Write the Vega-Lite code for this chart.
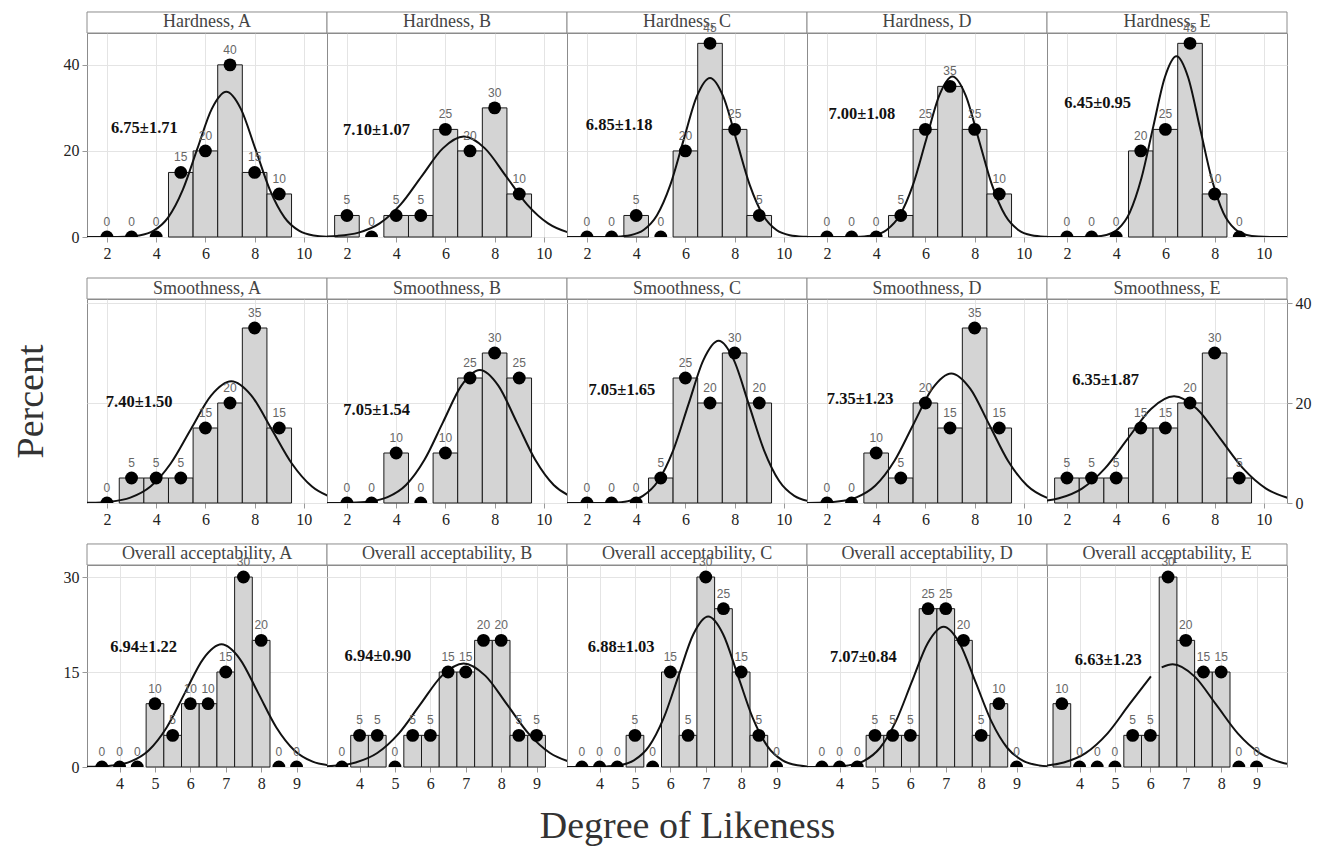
{
"$schema": "https://vega.github.io/schema/vega-lite/v6.json",
"padding": {"left": 11, "top": 10, "right": 0, "bottom": 0},
"background": "white",
"config": {
  "view": {"stroke": "#8c8c8c", "strokeWidth": 1},
  "scale": {"continuousPadding": 0},
  "axis": {"grid": true, "gridColor": "#e4e4e4", "domain": false, "tickColor": "#999", "tickSize": 5, "labelFont": "Liberation Serif", "labelFontSize": 16, "labelColor": "#222", "labelPadding": 3, "titleFont": "Liberation Serif", "titleFontSize": 38, "titleFontWeight": "normal", "titleColor": "#333", "labelFlush": false, "labelOverlap": false}
},
"datasets": {
"pts": [
{"p":"HA","x":2,"pct":0},{"p":"HA","x":3,"pct":0},{"p":"HA","x":4,"pct":0},{"p":"HA","x":5,"pct":15},{"p":"HA","x":6,"pct":20},{"p":"HA","x":7,"pct":40},{"p":"HA","x":8,"pct":15},{"p":"HA","x":9,"pct":10},
{"p":"HB","x":2,"pct":5},{"p":"HB","x":3,"pct":0},{"p":"HB","x":4,"pct":5},{"p":"HB","x":5,"pct":5},{"p":"HB","x":6,"pct":25},{"p":"HB","x":7,"pct":20},{"p":"HB","x":8,"pct":30},{"p":"HB","x":9,"pct":10},
{"p":"HC","x":2,"pct":0},{"p":"HC","x":3,"pct":0},{"p":"HC","x":4,"pct":5},{"p":"HC","x":5,"pct":0},{"p":"HC","x":6,"pct":20},{"p":"HC","x":7,"pct":45},{"p":"HC","x":8,"pct":25},{"p":"HC","x":9,"pct":5},
{"p":"HD","x":2,"pct":0},{"p":"HD","x":3,"pct":0},{"p":"HD","x":4,"pct":0},{"p":"HD","x":5,"pct":5},{"p":"HD","x":6,"pct":25},{"p":"HD","x":7,"pct":35},{"p":"HD","x":8,"pct":25},{"p":"HD","x":9,"pct":10},
{"p":"HE","x":2,"pct":0},{"p":"HE","x":3,"pct":0},{"p":"HE","x":4,"pct":0},{"p":"HE","x":5,"pct":20},{"p":"HE","x":6,"pct":25},{"p":"HE","x":7,"pct":45},{"p":"HE","x":8,"pct":10},{"p":"HE","x":9,"pct":0},
{"p":"SA","x":2,"pct":0},{"p":"SA","x":3,"pct":5},{"p":"SA","x":4,"pct":5},{"p":"SA","x":5,"pct":5},{"p":"SA","x":6,"pct":15},{"p":"SA","x":7,"pct":20},{"p":"SA","x":8,"pct":35},{"p":"SA","x":9,"pct":15},
{"p":"SB","x":2,"pct":0},{"p":"SB","x":3,"pct":0},{"p":"SB","x":4,"pct":10},{"p":"SB","x":5,"pct":0},{"p":"SB","x":6,"pct":10},{"p":"SB","x":7,"pct":25},{"p":"SB","x":8,"pct":30},{"p":"SB","x":9,"pct":25},
{"p":"SC","x":2,"pct":0},{"p":"SC","x":3,"pct":0},{"p":"SC","x":4,"pct":0},{"p":"SC","x":5,"pct":5},{"p":"SC","x":6,"pct":25},{"p":"SC","x":7,"pct":20},{"p":"SC","x":8,"pct":30},{"p":"SC","x":9,"pct":20},
{"p":"SD","x":2,"pct":0},{"p":"SD","x":3,"pct":0},{"p":"SD","x":4,"pct":10},{"p":"SD","x":5,"pct":5},{"p":"SD","x":6,"pct":20},{"p":"SD","x":7,"pct":15},{"p":"SD","x":8,"pct":35},{"p":"SD","x":9,"pct":15},
{"p":"SE","x":2,"pct":5},{"p":"SE","x":3,"pct":5},{"p":"SE","x":4,"pct":5},{"p":"SE","x":5,"pct":15},{"p":"SE","x":6,"pct":15},{"p":"SE","x":7,"pct":20},{"p":"SE","x":8,"pct":30},{"p":"SE","x":9,"pct":5},
{"p":"OA","x":3.5,"pct":0},{"p":"OA","x":4,"pct":0},{"p":"OA","x":4.5,"pct":0},{"p":"OA","x":5,"pct":10},{"p":"OA","x":5.5,"pct":5},{"p":"OA","x":6,"pct":10},{"p":"OA","x":6.5,"pct":10},{"p":"OA","x":7,"pct":15},{"p":"OA","x":7.5,"pct":30},{"p":"OA","x":8,"pct":20},{"p":"OA","x":8.5,"pct":0},{"p":"OA","x":9,"pct":0},
{"p":"OB","x":3.5,"pct":0},{"p":"OB","x":4,"pct":5},{"p":"OB","x":4.5,"pct":5},{"p":"OB","x":5,"pct":0},{"p":"OB","x":5.5,"pct":5},{"p":"OB","x":6,"pct":5},{"p":"OB","x":6.5,"pct":15},{"p":"OB","x":7,"pct":15},{"p":"OB","x":7.5,"pct":20},{"p":"OB","x":8,"pct":20},{"p":"OB","x":8.5,"pct":5},{"p":"OB","x":9,"pct":5},
{"p":"OC","x":3.5,"pct":0},{"p":"OC","x":4,"pct":0},{"p":"OC","x":4.5,"pct":0},{"p":"OC","x":5,"pct":5},{"p":"OC","x":5.5,"pct":0},{"p":"OC","x":6,"pct":15},{"p":"OC","x":6.5,"pct":5},{"p":"OC","x":7,"pct":30},{"p":"OC","x":7.5,"pct":25},{"p":"OC","x":8,"pct":15},{"p":"OC","x":8.5,"pct":5},{"p":"OC","x":9,"pct":0},
{"p":"OD","x":3.5,"pct":0},{"p":"OD","x":4,"pct":0},{"p":"OD","x":4.5,"pct":0},{"p":"OD","x":5,"pct":5},{"p":"OD","x":5.5,"pct":5},{"p":"OD","x":6,"pct":5},{"p":"OD","x":6.5,"pct":25},{"p":"OD","x":7,"pct":25},{"p":"OD","x":7.5,"pct":20},{"p":"OD","x":8,"pct":5},{"p":"OD","x":8.5,"pct":10},{"p":"OD","x":9,"pct":0},
{"p":"OE","x":3.5,"pct":10},{"p":"OE","x":4,"pct":0},{"p":"OE","x":4.5,"pct":0},{"p":"OE","x":5,"pct":0},{"p":"OE","x":5.5,"pct":5},{"p":"OE","x":6,"pct":5},{"p":"OE","x":6.5,"pct":30},{"p":"OE","x":7,"pct":20},{"p":"OE","x":7.5,"pct":15},{"p":"OE","x":8,"pct":15},{"p":"OE","x":8.5,"pct":0},{"p":"OE","x":9,"pct":0}
],
"crv": [
{"p":"HA","x":1.0,"y":0},{"p":"HA","x":2.13,"y":0.01},{"p":"HA","x":2.72,"y":0.07},{"p":"HA","x":3.31,"y":0.37},{"p":"HA","x":3.9,"y":1.48},{"p":"HA","x":4.49,"y":4.57},{"p":"HA","x":5.08,"y":10.96},{"p":"HA","x":5.67,"y":20.47},{"p":"HA","x":6.26,"y":29.78},{"p":"HA","x":6.85,"y":33.75},{"p":"HA","x":7.44,"y":29.78},{"p":"HA","x":8.03,"y":20.47},{"p":"HA","x":8.62,"y":10.96},{"p":"HA","x":9.21,"y":4.57},{"p":"HA","x":9.8,"y":1.48},{"p":"HA","x":10.39,"y":0.37},{"p":"HA","x":10.98,"y":0.07},{"p":"HA","x":11.57,"y":0.01},
{"p":"HB","x":0.765,"y":0.05},{"p":"HB","x":1.62,"y":0.26},{"p":"HB","x":2.475,"y":1.02},{"p":"HB","x":3.33,"y":3.16},{"p":"HB","x":4.185,"y":7.58},{"p":"HB","x":5.04,"y":14.15},{"p":"HB","x":5.895,"y":20.59},{"p":"HB","x":6.75,"y":23.33},{"p":"HB","x":7.605,"y":20.59},{"p":"HB","x":8.46,"y":14.15},{"p":"HB","x":9.315,"y":7.58},{"p":"HB","x":10.17,"y":3.16},{"p":"HB","x":11.025,"y":1.02},{"p":"HB","x":11.88,"y":0.26},
{"p":"HC","x":1.0,"y":0},{"p":"HC","x":2.68,"y":0.01},{"p":"HC","x":3.22,"y":0.08},{"p":"HC","x":3.76,"y":0.41},{"p":"HC","x":4.3,"y":1.62},{"p":"HC","x":4.84,"y":5.0},{"p":"HC","x":5.38,"y":11.99},{"p":"HC","x":5.92,"y":22.4},{"p":"HC","x":6.46,"y":32.6},{"p":"HC","x":7.0,"y":36.94},{"p":"HC","x":7.54,"y":32.6},{"p":"HC","x":8.08,"y":22.4},{"p":"HC","x":8.62,"y":11.99},{"p":"HC","x":9.16,"y":5.0},{"p":"HC","x":9.7,"y":1.62},{"p":"HC","x":10.24,"y":0.41},{"p":"HC","x":10.78,"y":0.08},{"p":"HC","x":11.32,"y":0.01},
{"p":"HD","x":1.0,"y":0},{"p":"HD","x":2.82,"y":0.01},{"p":"HD","x":3.355,"y":0.08},{"p":"HD","x":3.89,"y":0.41},{"p":"HD","x":4.425,"y":1.64},{"p":"HD","x":4.96,"y":5.04},{"p":"HD","x":5.495,"y":12.1},{"p":"HD","x":6.03,"y":22.61},{"p":"HD","x":6.565,"y":32.9},{"p":"HD","x":7.1,"y":37.28},{"p":"HD","x":7.635,"y":32.9},{"p":"HD","x":8.17,"y":22.61},{"p":"HD","x":8.705,"y":12.1},{"p":"HD","x":9.24,"y":5.04},{"p":"HD","x":9.775,"y":1.64},{"p":"HD","x":10.31,"y":0.41},{"p":"HD","x":10.845,"y":0.08},{"p":"HD","x":11.38,"y":0.01},
{"p":"HE","x":1.0,"y":0},{"p":"HE","x":2.65,"y":0.01},{"p":"HE","x":3.125,"y":0.09},{"p":"HE","x":3.6,"y":0.47},{"p":"HE","x":4.075,"y":1.84},{"p":"HE","x":4.55,"y":5.68},{"p":"HE","x":5.025,"y":13.64},{"p":"HE","x":5.5,"y":25.47},{"p":"HE","x":5.975,"y":37.07},{"p":"HE","x":6.45,"y":42.0},{"p":"HE","x":6.925,"y":37.07},{"p":"HE","x":7.4,"y":25.47},{"p":"HE","x":7.875,"y":13.64},{"p":"HE","x":8.35,"y":5.68},{"p":"HE","x":8.825,"y":1.84},{"p":"HE","x":9.3,"y":0.47},{"p":"HE","x":9.775,"y":0.09},{"p":"HE","x":10.25,"y":0.01},{"p":"HE","x":11.0,"y":0},
{"p":"SA","x":0.49,"y":0.01},{"p":"SA","x":1.31,"y":0.05},{"p":"SA","x":2.13,"y":0.27},{"p":"SA","x":2.95,"y":1.07},{"p":"SA","x":3.77,"y":3.29},{"p":"SA","x":4.59,"y":7.9},{"p":"SA","x":5.41,"y":14.76},{"p":"SA","x":6.23,"y":21.47},{"p":"SA","x":7.05,"y":24.33},{"p":"SA","x":7.87,"y":21.47},{"p":"SA","x":8.69,"y":14.76},{"p":"SA","x":9.51,"y":7.9},{"p":"SA","x":10.33,"y":3.29},{"p":"SA","x":11.15,"y":1.07},
{"p":"SB","x":1.0,"y":0},{"p":"SB","x":1.4,"y":0.01},{"p":"SB","x":2.15,"y":0.06},{"p":"SB","x":2.9,"y":0.3},{"p":"SB","x":3.65,"y":1.17},{"p":"SB","x":4.4,"y":3.6},{"p":"SB","x":5.15,"y":8.64},{"p":"SB","x":5.9,"y":16.13},{"p":"SB","x":6.65,"y":23.47},{"p":"SB","x":7.4,"y":26.6},{"p":"SB","x":8.15,"y":23.47},{"p":"SB","x":8.9,"y":16.13},{"p":"SB","x":9.65,"y":8.64},{"p":"SB","x":10.4,"y":3.6},{"p":"SB","x":11.15,"y":1.17},
{"p":"SC","x":1.0,"y":0},{"p":"SC","x":2.43,"y":0.01},{"p":"SC","x":3.045,"y":0.07},{"p":"SC","x":3.66,"y":0.36},{"p":"SC","x":4.275,"y":1.42},{"p":"SC","x":4.89,"y":4.39},{"p":"SC","x":5.505,"y":10.53},{"p":"SC","x":6.12,"y":19.67},{"p":"SC","x":6.735,"y":28.62},{"p":"SC","x":7.35,"y":32.43},{"p":"SC","x":7.965,"y":28.62},{"p":"SC","x":8.58,"y":19.67},{"p":"SC","x":9.195,"y":10.53},{"p":"SC","x":9.81,"y":4.39},{"p":"SC","x":10.425,"y":1.42},{"p":"SC","x":11.04,"y":0.36},
{"p":"SD","x":0.89,"y":0.01},{"p":"SD","x":1.66,"y":0.06},{"p":"SD","x":2.43,"y":0.29},{"p":"SD","x":3.2,"y":1.14},{"p":"SD","x":3.97,"y":3.51},{"p":"SD","x":4.74,"y":8.41},{"p":"SD","x":5.51,"y":15.71},{"p":"SD","x":6.28,"y":22.87},{"p":"SD","x":7.05,"y":25.91},{"p":"SD","x":7.82,"y":22.87},{"p":"SD","x":8.59,"y":15.71},{"p":"SD","x":9.36,"y":8.41},{"p":"SD","x":10.13,"y":3.51},{"p":"SD","x":10.9,"y":1.14},{"p":"SD","x":11.67,"y":0.29},
{"p":"SE","x":0.74,"y":0.24},{"p":"SE","x":1.675,"y":0.94},{"p":"SE","x":2.61,"y":2.89},{"p":"SE","x":3.545,"y":6.93},{"p":"SE","x":4.48,"y":12.94},{"p":"SE","x":5.415,"y":18.82},{"p":"SE","x":6.35,"y":21.33},{"p":"SE","x":7.285,"y":18.82},{"p":"SE","x":8.22,"y":12.94},{"p":"SE","x":9.155,"y":6.93},{"p":"SE","x":10.09,"y":2.89},{"p":"SE","x":11.025,"y":0.94},
{"p":"OA","x":2.76,"y":0.01},{"p":"OA","x":3.275,"y":0.04},{"p":"OA","x":3.79,"y":0.22},{"p":"OA","x":4.305,"y":0.85},{"p":"OA","x":4.82,"y":2.62},{"p":"OA","x":5.335,"y":6.29},{"p":"OA","x":5.85,"y":11.75},{"p":"OA","x":6.365,"y":17.09},{"p":"OA","x":6.88,"y":19.37},{"p":"OA","x":7.395,"y":17.09},{"p":"OA","x":7.91,"y":11.75},{"p":"OA","x":8.425,"y":6.29},{"p":"OA","x":8.94,"y":2.62},{"p":"OA","x":9.455,"y":0.85},{"p":"OA","x":9.97,"y":0.22},
{"p":"OB","x":2.67,"y":0.04},{"p":"OB","x":3.28,"y":0.18},{"p":"OB","x":3.89,"y":0.72},{"p":"OB","x":4.5,"y":2.21},{"p":"OB","x":5.11,"y":5.31},{"p":"OB","x":5.72,"y":9.92},{"p":"OB","x":6.33,"y":14.43},{"p":"OB","x":6.94,"y":16.35},{"p":"OB","x":7.55,"y":14.43},{"p":"OB","x":8.16,"y":9.92},{"p":"OB","x":8.77,"y":5.31},{"p":"OB","x":9.38,"y":2.21},{"p":"OB","x":9.99,"y":0.72},
{"p":"OC","x":3.0,"y":0},{"p":"OC","x":3.71,"y":0.01},{"p":"OC","x":4.13,"y":0.05},{"p":"OC","x":4.55,"y":0.26},{"p":"OC","x":4.97,"y":1.04},{"p":"OC","x":5.39,"y":3.21},{"p":"OC","x":5.81,"y":7.71},{"p":"OC","x":6.23,"y":14.4},{"p":"OC","x":6.65,"y":20.96},{"p":"OC","x":7.07,"y":23.75},{"p":"OC","x":7.49,"y":20.96},{"p":"OC","x":7.91,"y":14.4},{"p":"OC","x":8.33,"y":7.71},{"p":"OC","x":8.75,"y":3.21},{"p":"OC","x":9.17,"y":1.04},{"p":"OC","x":9.59,"y":0.26},{"p":"OC","x":10.01,"y":0.05},
{"p":"OD","x":3.0,"y":0},{"p":"OD","x":3.34,"y":0.01},{"p":"OD","x":3.79,"y":0.05},{"p":"OD","x":4.24,"y":0.25},{"p":"OD","x":4.69,"y":0.97},{"p":"OD","x":5.14,"y":3.0},{"p":"OD","x":5.59,"y":7.2},{"p":"OD","x":6.04,"y":13.44},{"p":"OD","x":6.49,"y":19.56},{"p":"OD","x":6.94,"y":22.16},{"p":"OD","x":7.39,"y":19.56},{"p":"OD","x":7.84,"y":13.44},{"p":"OD","x":8.29,"y":7.2},{"p":"OD","x":8.74,"y":3.0},{"p":"OD","x":9.19,"y":0.97},{"p":"OD","x":9.64,"y":0.25},{"p":"OD","x":10.09,"y":0.05},
{"p":"OE","s":1,"x":2.325,"y":0.04},{"p":"OE","s":1,"x":2.94,"y":0.18},{"p":"OE","s":1,"x":3.555,"y":0.71},{"p":"OE","s":1,"x":4.17,"y":2.19},{"p":"OE","s":1,"x":4.785,"y":5.27},{"p":"OE","s":1,"x":5.4,"y":9.84},{"p":"OE","s":1,"x":6.015,"y":14.31},
{"p":"OE","s":2,"x":6.32,"y":15.72},{"p":"OE","s":2,"x":6.63,"y":16.22},{"p":"OE","s":2,"x":7.245,"y":14.31},{"p":"OE","s":2,"x":7.86,"y":9.84},{"p":"OE","s":2,"x":8.475,"y":5.27},{"p":"OE","s":2,"x":9.09,"y":2.19},{"p":"OE","s":2,"x":9.705,"y":0.71},{"p":"OE","s":2,"x":10.32,"y":0.18}
],
"ann": [
{"p":"HA","title":"Hardness, A","stat":"6.75±1.71"},
{"p":"HB","title":"Hardness, B","stat":"7.10±1.07"},
{"p":"HC","title":"Hardness, C","stat":"6.85±1.18"},
{"p":"HD","title":"Hardness, D","stat":"7.00±1.08"},
{"p":"HE","title":"Hardness, E","stat":"6.45±0.95"},
{"p":"SA","title":"Smoothness, A","stat":"7.40±1.50"},
{"p":"SB","title":"Smoothness, B","stat":"7.05±1.54"},
{"p":"SC","title":"Smoothness, C","stat":"7.05±1.65"},
{"p":"SD","title":"Smoothness, D","stat":"7.35±1.23"},
{"p":"SE","title":"Smoothness, E","stat":"6.35±1.87"},
{"p":"OA","title":"Overall acceptability, A","stat":"6.94±1.22"},
{"p":"OB","title":"Overall acceptability, B","stat":"6.94±0.90"},
{"p":"OC","title":"Overall acceptability, C","stat":"6.88±1.03"},
{"p":"OD","title":"Overall acceptability, D","stat":"7.07±0.84"},
{"p":"OE","title":"Overall acceptability, E","stat":"6.63±1.23"}
]
},
"columns": 5,
"spacing": {"row": 62, "column": 0},
"bounds": "flush",
"concat": [
{"width":240,"height":204,"layer":[
 {"data":{"name":"pts"},"transform":[{"filter":"datum.p=='HA' && datum.pct>0"}],"mark":{"type":"bar","width":24.6,"fill":"#d4d4d4","stroke":"#1a1a1a","strokeWidth":1},
  "encoding":{"x":{"field":"x","type":"quantitative","scale":{"domain":[1.19,10.94],"nice":false,"zero":false,"padding":0},"axis":{"values":[2,4,6,8,10],"title":null}},
   "y":{"field":"pct","type":"quantitative","scale":{"domain":[0,47.4],"nice":false},"axis":{"values":[0,20,40],"title":null}}}},
 {"data":{"name":"crv"},"transform":[{"filter":"datum.p=='HA'"}],"mark":{"type":"line","color":"#111","strokeWidth":2,"interpolate":"monotone","clip":true},"encoding":{"x":{"field":"x","type":"quantitative"},"y":{"field":"y","type":"quantitative"}}},
 {"data":{"name":"pts"},"transform":[{"filter":"datum.p=='HA'"}],"mark":{"type":"circle","size":165,"color":"#000","opacity":1,"clip":true},"encoding":{"x":{"field":"x","type":"quantitative"},"y":{"field":"pct","type":"quantitative"}}},
 {"data":{"name":"ann"},"transform":[{"filter":"datum.p=='HA'"}],"mark":{"type":"rect","fill":"#fff","stroke":"#8c8c8c","strokeWidth":1},"encoding":{"x":{"datum":1.19},"x2":{"datum":10.94},"y":{"datum":47.4},"y2":{"datum":52.28}}},
 {"data":{"name":"ann"},"transform":[{"filter":"datum.p=='HA'"}],"mark":{"type":"text","font":"Liberation Serif","fontSize":18,"color":"#444","baseline":"middle"},"encoding":{"x":{"datum":6.065},"y":{"datum":49.84},"text":{"field":"title"}}},
 {"data":{"name":"ann"},"transform":[{"filter":"datum.p=='HA'"}],"mark":{"type":"text","font":"Liberation Serif","fontSize":16.5,"fontWeight":"bold","color":"#111","baseline":"middle"},"encoding":{"x":{"datum":3.52},"y":{"datum":25.4},"text":{"field":"stat"}}},
 {"data":{"name":"pts"},"transform":[{"filter":"datum.p=='HA'"}],"mark":{"type":"text","dy":-15,"font":"Liberation Sans","fontSize":12,"fill":"#666","baseline":"middle"},"encoding":{"x":{"field":"x","type":"quantitative"},"y":{"field":"pct","type":"quantitative"},"text":{"field":"pct","type":"quantitative"}}}
]},
{"width":240,"height":204,"layer":[
 {"data":{"name":"pts"},"transform":[{"filter":"datum.p=='HB' && datum.pct>0"}],"mark":{"type":"bar","width":24.6,"fill":"#d4d4d4","stroke":"#1a1a1a","strokeWidth":1},
  "encoding":{"x":{"field":"x","type":"quantitative","scale":{"domain":[1.19,10.94],"nice":false,"zero":false,"padding":0},"axis":{"values":[2,4,6,8,10],"title":null}},
   "y":{"field":"pct","type":"quantitative","scale":{"domain":[0,47.4],"nice":false},"axis":{"values":[0,20,40],"title":null,"labels":false,"ticks":false}}}},
 {"data":{"name":"crv"},"transform":[{"filter":"datum.p=='HB'"}],"mark":{"type":"line","color":"#111","strokeWidth":2,"interpolate":"monotone","clip":true},"encoding":{"x":{"field":"x","type":"quantitative"},"y":{"field":"y","type":"quantitative"}}},
 {"data":{"name":"pts"},"transform":[{"filter":"datum.p=='HB'"}],"mark":{"type":"circle","size":165,"color":"#000","opacity":1,"clip":true},"encoding":{"x":{"field":"x","type":"quantitative"},"y":{"field":"pct","type":"quantitative"}}},
 {"data":{"name":"ann"},"transform":[{"filter":"datum.p=='HB'"}],"mark":{"type":"rect","fill":"#fff","stroke":"#8c8c8c","strokeWidth":1},"encoding":{"x":{"datum":1.19},"x2":{"datum":10.94},"y":{"datum":47.4},"y2":{"datum":52.28}}},
 {"data":{"name":"ann"},"transform":[{"filter":"datum.p=='HB'"}],"mark":{"type":"text","font":"Liberation Serif","fontSize":18,"color":"#444","baseline":"middle"},"encoding":{"x":{"datum":6.065},"y":{"datum":49.84},"text":{"field":"title"}}},
 {"data":{"name":"ann"},"transform":[{"filter":"datum.p=='HB'"}],"mark":{"type":"text","font":"Liberation Serif","fontSize":16.5,"fontWeight":"bold","color":"#111","baseline":"middle"},"encoding":{"x":{"datum":3.2},"y":{"datum":24.9},"text":{"field":"stat"}}},
 {"data":{"name":"pts"},"transform":[{"filter":"datum.p=='HB'"}],"mark":{"type":"text","dy":-15,"font":"Liberation Sans","fontSize":12,"fill":"#666","baseline":"middle"},"encoding":{"x":{"field":"x","type":"quantitative"},"y":{"field":"pct","type":"quantitative"},"text":{"field":"pct","type":"quantitative"}}}
]},
{"width":240,"height":204,"layer":[
 {"data":{"name":"pts"},"transform":[{"filter":"datum.p=='HC' && datum.pct>0"}],"mark":{"type":"bar","width":24.6,"fill":"#d4d4d4","stroke":"#1a1a1a","strokeWidth":1},
  "encoding":{"x":{"field":"x","type":"quantitative","scale":{"domain":[1.19,10.94],"nice":false,"zero":false,"padding":0},"axis":{"values":[2,4,6,8,10],"title":null}},
   "y":{"field":"pct","type":"quantitative","scale":{"domain":[0,47.4],"nice":false},"axis":{"values":[0,20,40],"title":null,"labels":false,"ticks":false}}}},
 {"data":{"name":"crv"},"transform":[{"filter":"datum.p=='HC'"}],"mark":{"type":"line","color":"#111","strokeWidth":2,"interpolate":"monotone","clip":true},"encoding":{"x":{"field":"x","type":"quantitative"},"y":{"field":"y","type":"quantitative"}}},
 {"data":{"name":"pts"},"transform":[{"filter":"datum.p=='HC'"}],"mark":{"type":"circle","size":165,"color":"#000","opacity":1,"clip":true},"encoding":{"x":{"field":"x","type":"quantitative"},"y":{"field":"pct","type":"quantitative"}}},
 {"data":{"name":"ann"},"transform":[{"filter":"datum.p=='HC'"}],"mark":{"type":"rect","fill":"#fff","stroke":"#8c8c8c","strokeWidth":1},"encoding":{"x":{"datum":1.19},"x2":{"datum":10.94},"y":{"datum":47.4},"y2":{"datum":52.28}}},
 {"data":{"name":"ann"},"transform":[{"filter":"datum.p=='HC'"}],"mark":{"type":"text","font":"Liberation Serif","fontSize":18,"color":"#444","baseline":"middle"},"encoding":{"x":{"datum":6.065},"y":{"datum":49.84},"text":{"field":"title"}}},
 {"data":{"name":"ann"},"transform":[{"filter":"datum.p=='HC'"}],"mark":{"type":"text","font":"Liberation Serif","fontSize":16.5,"fontWeight":"bold","color":"#111","baseline":"middle"},"encoding":{"x":{"datum":3.31},"y":{"datum":26.0},"text":{"field":"stat"}}},
 {"data":{"name":"pts"},"transform":[{"filter":"datum.p=='HC'"}],"mark":{"type":"text","dy":-15,"font":"Liberation Sans","fontSize":12,"fill":"#666","baseline":"middle"},"encoding":{"x":{"field":"x","type":"quantitative"},"y":{"field":"pct","type":"quantitative"},"text":{"field":"pct","type":"quantitative"}}}
]},
{"width":240,"height":204,"layer":[
 {"data":{"name":"pts"},"transform":[{"filter":"datum.p=='HD' && datum.pct>0"}],"mark":{"type":"bar","width":24.6,"fill":"#d4d4d4","stroke":"#1a1a1a","strokeWidth":1},
  "encoding":{"x":{"field":"x","type":"quantitative","scale":{"domain":[1.19,10.94],"nice":false,"zero":false,"padding":0},"axis":{"values":[2,4,6,8,10],"title":null}},
   "y":{"field":"pct","type":"quantitative","scale":{"domain":[0,47.4],"nice":false},"axis":{"values":[0,20,40],"title":null,"labels":false,"ticks":false}}}},
 {"data":{"name":"crv"},"transform":[{"filter":"datum.p=='HD'"}],"mark":{"type":"line","color":"#111","strokeWidth":2,"interpolate":"monotone","clip":true},"encoding":{"x":{"field":"x","type":"quantitative"},"y":{"field":"y","type":"quantitative"}}},
 {"data":{"name":"pts"},"transform":[{"filter":"datum.p=='HD'"}],"mark":{"type":"circle","size":165,"color":"#000","opacity":1,"clip":true},"encoding":{"x":{"field":"x","type":"quantitative"},"y":{"field":"pct","type":"quantitative"}}},
 {"data":{"name":"ann"},"transform":[{"filter":"datum.p=='HD'"}],"mark":{"type":"rect","fill":"#fff","stroke":"#8c8c8c","strokeWidth":1},"encoding":{"x":{"datum":1.19},"x2":{"datum":10.94},"y":{"datum":47.4},"y2":{"datum":52.28}}},
 {"data":{"name":"ann"},"transform":[{"filter":"datum.p=='HD'"}],"mark":{"type":"text","font":"Liberation Serif","fontSize":18,"color":"#444","baseline":"middle"},"encoding":{"x":{"datum":6.065},"y":{"datum":49.84},"text":{"field":"title"}}},
 {"data":{"name":"ann"},"transform":[{"filter":"datum.p=='HD'"}],"mark":{"type":"text","font":"Liberation Serif","fontSize":16.5,"fontWeight":"bold","color":"#111","baseline":"middle"},"encoding":{"x":{"datum":3.42},"y":{"datum":28.6},"text":{"field":"stat"}}},
 {"data":{"name":"pts"},"transform":[{"filter":"datum.p=='HD'"}],"mark":{"type":"text","dy":-15,"font":"Liberation Sans","fontSize":12,"fill":"#666","baseline":"middle"},"encoding":{"x":{"field":"x","type":"quantitative"},"y":{"field":"pct","type":"quantitative"},"text":{"field":"pct","type":"quantitative"}}}
]},
{"width":240,"height":204,"layer":[
 {"data":{"name":"pts"},"transform":[{"filter":"datum.p=='HE' && datum.pct>0"}],"mark":{"type":"bar","width":24.6,"fill":"#d4d4d4","stroke":"#1a1a1a","strokeWidth":1},
  "encoding":{"x":{"field":"x","type":"quantitative","scale":{"domain":[1.19,10.94],"nice":false,"zero":false,"padding":0},"axis":{"values":[2,4,6,8,10],"title":null}},
   "y":{"field":"pct","type":"quantitative","scale":{"domain":[0,47.4],"nice":false},"axis":{"values":[0,20,40],"title":null,"labels":false,"ticks":false}}}},
 {"data":{"name":"crv"},"transform":[{"filter":"datum.p=='HE'"}],"mark":{"type":"line","color":"#111","strokeWidth":2,"interpolate":"monotone","clip":true},"encoding":{"x":{"field":"x","type":"quantitative"},"y":{"field":"y","type":"quantitative"}}},
 {"data":{"name":"pts"},"transform":[{"filter":"datum.p=='HE'"}],"mark":{"type":"circle","size":165,"color":"#000","opacity":1,"clip":true},"encoding":{"x":{"field":"x","type":"quantitative"},"y":{"field":"pct","type":"quantitative"}}},
 {"data":{"name":"ann"},"transform":[{"filter":"datum.p=='HE'"}],"mark":{"type":"rect","fill":"#fff","stroke":"#8c8c8c","strokeWidth":1},"encoding":{"x":{"datum":1.19},"x2":{"datum":10.94},"y":{"datum":47.4},"y2":{"datum":52.28}}},
 {"data":{"name":"ann"},"transform":[{"filter":"datum.p=='HE'"}],"mark":{"type":"text","font":"Liberation Serif","fontSize":18,"color":"#444","baseline":"middle"},"encoding":{"x":{"datum":6.065},"y":{"datum":49.84},"text":{"field":"title"}}},
 {"data":{"name":"ann"},"transform":[{"filter":"datum.p=='HE'"}],"mark":{"type":"text","font":"Liberation Serif","fontSize":16.5,"fontWeight":"bold","color":"#111","baseline":"middle"},"encoding":{"x":{"datum":3.25},"y":{"datum":31.1},"text":{"field":"stat"}}},
 {"data":{"name":"pts"},"transform":[{"filter":"datum.p=='HE'"}],"mark":{"type":"text","dy":-15,"font":"Liberation Sans","fontSize":12,"fill":"#666","baseline":"middle"},"encoding":{"x":{"field":"x","type":"quantitative"},"y":{"field":"pct","type":"quantitative"},"text":{"field":"pct","type":"quantitative"}}}
]},
{"width":240,"height":204,"layer":[
 {"data":{"name":"pts"},"transform":[{"filter":"datum.p=='SA' && datum.pct>0"}],"mark":{"type":"bar","width":24.6,"fill":"#d4d4d4","stroke":"#1a1a1a","strokeWidth":1},
  "encoding":{"x":{"field":"x","type":"quantitative","scale":{"domain":[1.19,10.94],"nice":false,"zero":false,"padding":0},"axis":{"values":[2,4,6,8,10],"title":null}},
   "y":{"field":"pct","type":"quantitative","scale":{"domain":[0,40.8],"nice":false},"axis":{"values":[0,20,40],"title":"Percent","labels":false,"ticks":false,"titlePadding":37}}}},
 {"data":{"name":"crv"},"transform":[{"filter":"datum.p=='SA'"}],"mark":{"type":"line","color":"#111","strokeWidth":2,"interpolate":"monotone","clip":true},"encoding":{"x":{"field":"x","type":"quantitative"},"y":{"field":"y","type":"quantitative"}}},
 {"data":{"name":"pts"},"transform":[{"filter":"datum.p=='SA'"}],"mark":{"type":"circle","size":165,"color":"#000","opacity":1,"clip":true},"encoding":{"x":{"field":"x","type":"quantitative"},"y":{"field":"pct","type":"quantitative"}}},
 {"data":{"name":"ann"},"transform":[{"filter":"datum.p=='SA'"}],"mark":{"type":"rect","fill":"#fff","stroke":"#8c8c8c","strokeWidth":1},"encoding":{"x":{"datum":1.19},"x2":{"datum":10.94},"y":{"datum":40.8},"y2":{"datum":45.0}}},
 {"data":{"name":"ann"},"transform":[{"filter":"datum.p=='SA'"}],"mark":{"type":"text","font":"Liberation Serif","fontSize":18,"color":"#444","baseline":"middle"},"encoding":{"x":{"datum":6.065},"y":{"datum":42.9},"text":{"field":"title"}}},
 {"data":{"name":"ann"},"transform":[{"filter":"datum.p=='SA'"}],"mark":{"type":"text","font":"Liberation Serif","fontSize":16.5,"fontWeight":"bold","color":"#111","baseline":"middle"},"encoding":{"x":{"datum":3.31},"y":{"datum":20.2},"text":{"field":"stat"}}},
 {"data":{"name":"pts"},"transform":[{"filter":"datum.p=='SA'"}],"mark":{"type":"text","dy":-15,"font":"Liberation Sans","fontSize":12,"fill":"#666","baseline":"middle"},"encoding":{"x":{"field":"x","type":"quantitative"},"y":{"field":"pct","type":"quantitative"},"text":{"field":"pct","type":"quantitative"}}}
]},
{"width":240,"height":204,"layer":[
 {"data":{"name":"pts"},"transform":[{"filter":"datum.p=='SB' && datum.pct>0"}],"mark":{"type":"bar","width":24.6,"fill":"#d4d4d4","stroke":"#1a1a1a","strokeWidth":1},
  "encoding":{"x":{"field":"x","type":"quantitative","scale":{"domain":[1.19,10.94],"nice":false,"zero":false,"padding":0},"axis":{"values":[2,4,6,8,10],"title":null}},
   "y":{"field":"pct","type":"quantitative","scale":{"domain":[0,40.8],"nice":false},"axis":{"values":[0,20,40],"title":null,"labels":false,"ticks":false}}}},
 {"data":{"name":"crv"},"transform":[{"filter":"datum.p=='SB'"}],"mark":{"type":"line","color":"#111","strokeWidth":2,"interpolate":"monotone","clip":true},"encoding":{"x":{"field":"x","type":"quantitative"},"y":{"field":"y","type":"quantitative"}}},
 {"data":{"name":"pts"},"transform":[{"filter":"datum.p=='SB'"}],"mark":{"type":"circle","size":165,"color":"#000","opacity":1,"clip":true},"encoding":{"x":{"field":"x","type":"quantitative"},"y":{"field":"pct","type":"quantitative"}}},
 {"data":{"name":"ann"},"transform":[{"filter":"datum.p=='SB'"}],"mark":{"type":"rect","fill":"#fff","stroke":"#8c8c8c","strokeWidth":1},"encoding":{"x":{"datum":1.19},"x2":{"datum":10.94},"y":{"datum":40.8},"y2":{"datum":45.0}}},
 {"data":{"name":"ann"},"transform":[{"filter":"datum.p=='SB'"}],"mark":{"type":"text","font":"Liberation Serif","fontSize":18,"color":"#444","baseline":"middle"},"encoding":{"x":{"datum":6.065},"y":{"datum":42.9},"text":{"field":"title"}}},
 {"data":{"name":"ann"},"transform":[{"filter":"datum.p=='SB'"}],"mark":{"type":"text","font":"Liberation Serif","fontSize":16.5,"fontWeight":"bold","color":"#111","baseline":"middle"},"encoding":{"x":{"datum":3.21},"y":{"datum":18.7},"text":{"field":"stat"}}},
 {"data":{"name":"pts"},"transform":[{"filter":"datum.p=='SB'"}],"mark":{"type":"text","dy":-15,"font":"Liberation Sans","fontSize":12,"fill":"#666","baseline":"middle"},"encoding":{"x":{"field":"x","type":"quantitative"},"y":{"field":"pct","type":"quantitative"},"text":{"field":"pct","type":"quantitative"}}}
]},
{"width":240,"height":204,"layer":[
 {"data":{"name":"pts"},"transform":[{"filter":"datum.p=='SC' && datum.pct>0"}],"mark":{"type":"bar","width":24.6,"fill":"#d4d4d4","stroke":"#1a1a1a","strokeWidth":1},
  "encoding":{"x":{"field":"x","type":"quantitative","scale":{"domain":[1.19,10.94],"nice":false,"zero":false,"padding":0},"axis":{"values":[2,4,6,8,10],"title":null}},
   "y":{"field":"pct","type":"quantitative","scale":{"domain":[0,40.8],"nice":false},"axis":{"values":[0,20,40],"title":null,"labels":false,"ticks":false}}}},
 {"data":{"name":"crv"},"transform":[{"filter":"datum.p=='SC'"}],"mark":{"type":"line","color":"#111","strokeWidth":2,"interpolate":"monotone","clip":true},"encoding":{"x":{"field":"x","type":"quantitative"},"y":{"field":"y","type":"quantitative"}}},
 {"data":{"name":"pts"},"transform":[{"filter":"datum.p=='SC'"}],"mark":{"type":"circle","size":165,"color":"#000","opacity":1,"clip":true},"encoding":{"x":{"field":"x","type":"quantitative"},"y":{"field":"pct","type":"quantitative"}}},
 {"data":{"name":"ann"},"transform":[{"filter":"datum.p=='SC'"}],"mark":{"type":"rect","fill":"#fff","stroke":"#8c8c8c","strokeWidth":1},"encoding":{"x":{"datum":1.19},"x2":{"datum":10.94},"y":{"datum":40.8},"y2":{"datum":45.0}}},
 {"data":{"name":"ann"},"transform":[{"filter":"datum.p=='SC'"}],"mark":{"type":"text","font":"Liberation Serif","fontSize":18,"color":"#444","baseline":"middle"},"encoding":{"x":{"datum":6.065},"y":{"datum":42.9},"text":{"field":"title"}}},
 {"data":{"name":"ann"},"transform":[{"filter":"datum.p=='SC'"}],"mark":{"type":"text","font":"Liberation Serif","fontSize":16.5,"fontWeight":"bold","color":"#111","baseline":"middle"},"encoding":{"x":{"datum":3.42},"y":{"datum":22.6},"text":{"field":"stat"}}},
 {"data":{"name":"pts"},"transform":[{"filter":"datum.p=='SC'"}],"mark":{"type":"text","dy":-15,"font":"Liberation Sans","fontSize":12,"fill":"#666","baseline":"middle"},"encoding":{"x":{"field":"x","type":"quantitative"},"y":{"field":"pct","type":"quantitative"},"text":{"field":"pct","type":"quantitative"}}}
]},
{"width":240,"height":204,"layer":[
 {"data":{"name":"pts"},"transform":[{"filter":"datum.p=='SD' && datum.pct>0"}],"mark":{"type":"bar","width":24.6,"fill":"#d4d4d4","stroke":"#1a1a1a","strokeWidth":1},
  "encoding":{"x":{"field":"x","type":"quantitative","scale":{"domain":[1.19,10.94],"nice":false,"zero":false,"padding":0},"axis":{"values":[2,4,6,8,10],"title":null}},
   "y":{"field":"pct","type":"quantitative","scale":{"domain":[0,40.8],"nice":false},"axis":{"values":[0,20,40],"title":null,"labels":false,"ticks":false}}}},
 {"data":{"name":"crv"},"transform":[{"filter":"datum.p=='SD'"}],"mark":{"type":"line","color":"#111","strokeWidth":2,"interpolate":"monotone","clip":true},"encoding":{"x":{"field":"x","type":"quantitative"},"y":{"field":"y","type":"quantitative"}}},
 {"data":{"name":"pts"},"transform":[{"filter":"datum.p=='SD'"}],"mark":{"type":"circle","size":165,"color":"#000","opacity":1,"clip":true},"encoding":{"x":{"field":"x","type":"quantitative"},"y":{"field":"pct","type":"quantitative"}}},
 {"data":{"name":"ann"},"transform":[{"filter":"datum.p=='SD'"}],"mark":{"type":"rect","fill":"#fff","stroke":"#8c8c8c","strokeWidth":1},"encoding":{"x":{"datum":1.19},"x2":{"datum":10.94},"y":{"datum":40.8},"y2":{"datum":45.0}}},
 {"data":{"name":"ann"},"transform":[{"filter":"datum.p=='SD'"}],"mark":{"type":"text","font":"Liberation Serif","fontSize":18,"color":"#444","baseline":"middle"},"encoding":{"x":{"datum":6.065},"y":{"datum":42.9},"text":{"field":"title"}}},
 {"data":{"name":"ann"},"transform":[{"filter":"datum.p=='SD'"}],"mark":{"type":"text","font":"Liberation Serif","fontSize":16.5,"fontWeight":"bold","color":"#111","baseline":"middle"},"encoding":{"x":{"datum":3.35},"y":{"datum":20.9},"text":{"field":"stat"}}},
 {"data":{"name":"pts"},"transform":[{"filter":"datum.p=='SD'"}],"mark":{"type":"text","dy":-15,"font":"Liberation Sans","fontSize":12,"fill":"#666","baseline":"middle"},"encoding":{"x":{"field":"x","type":"quantitative"},"y":{"field":"pct","type":"quantitative"},"text":{"field":"pct","type":"quantitative"}}}
]},
{"width":240,"height":204,"layer":[
 {"data":{"name":"pts"},"transform":[{"filter":"datum.p=='SE' && datum.pct>0"}],"mark":{"type":"bar","width":24.6,"fill":"#d4d4d4","stroke":"#1a1a1a","strokeWidth":1},
  "encoding":{"x":{"field":"x","type":"quantitative","scale":{"domain":[1.19,10.94],"nice":false,"zero":false,"padding":0},"axis":{"values":[2,4,6,8,10],"title":null}},
   "y":{"field":"pct","type":"quantitative","scale":{"domain":[0,40.8],"nice":false},"axis":{"values":[0,20,40],"title":null,"orient":"right"}}}},
 {"data":{"name":"crv"},"transform":[{"filter":"datum.p=='SE'"}],"mark":{"type":"line","color":"#111","strokeWidth":2,"interpolate":"monotone","clip":true},"encoding":{"x":{"field":"x","type":"quantitative"},"y":{"field":"y","type":"quantitative"}}},
 {"data":{"name":"pts"},"transform":[{"filter":"datum.p=='SE'"}],"mark":{"type":"circle","size":165,"color":"#000","opacity":1,"clip":true},"encoding":{"x":{"field":"x","type":"quantitative"},"y":{"field":"pct","type":"quantitative"}}},
 {"data":{"name":"ann"},"transform":[{"filter":"datum.p=='SE'"}],"mark":{"type":"rect","fill":"#fff","stroke":"#8c8c8c","strokeWidth":1},"encoding":{"x":{"datum":1.19},"x2":{"datum":10.94},"y":{"datum":40.8},"y2":{"datum":45.0}}},
 {"data":{"name":"ann"},"transform":[{"filter":"datum.p=='SE'"}],"mark":{"type":"text","font":"Liberation Serif","fontSize":18,"color":"#444","baseline":"middle"},"encoding":{"x":{"datum":6.065},"y":{"datum":42.9},"text":{"field":"title"}}},
 {"data":{"name":"ann"},"transform":[{"filter":"datum.p=='SE'"}],"mark":{"type":"text","font":"Liberation Serif","fontSize":16.5,"fontWeight":"bold","color":"#111","baseline":"middle"},"encoding":{"x":{"datum":3.57},"y":{"datum":24.7},"text":{"field":"stat"}}},
 {"data":{"name":"pts"},"transform":[{"filter":"datum.p=='SE'"}],"mark":{"type":"text","dy":-15,"font":"Liberation Sans","fontSize":12,"fill":"#666","baseline":"middle"},"encoding":{"x":{"field":"x","type":"quantitative"},"y":{"field":"pct","type":"quantitative"},"text":{"field":"pct","type":"quantitative"}}}
]},
{"width":240,"height":202,"layer":[
 {"data":{"name":"pts"},"transform":[{"filter":"datum.p=='OA' && datum.pct>0"}],"mark":{"type":"bar","width":17.7,"fill":"#d4d4d4","stroke":"#1a1a1a","strokeWidth":1},
  "encoding":{"x":{"field":"x","type":"quantitative","scale":{"domain":[3.08,9.86],"nice":false,"zero":false,"padding":0},"axis":{"values":[4,5,6,7,8,9],"title":null}},
   "y":{"field":"pct","type":"quantitative","scale":{"domain":[0,31.9],"nice":false},"axis":{"values":[0,15,30],"title":null}}}},
 {"data":{"name":"crv"},"transform":[{"filter":"datum.p=='OA'"}],"mark":{"type":"line","color":"#111","strokeWidth":2,"interpolate":"monotone","clip":true},"encoding":{"x":{"field":"x","type":"quantitative"},"y":{"field":"y","type":"quantitative"}}},
 {"data":{"name":"pts"},"transform":[{"filter":"datum.p=='OA'"}],"mark":{"type":"circle","size":165,"color":"#000","opacity":1,"clip":true},"encoding":{"x":{"field":"x","type":"quantitative"},"y":{"field":"pct","type":"quantitative"}}},
 {"data":{"name":"ann"},"transform":[{"filter":"datum.p=='OA'"}],"mark":{"type":"rect","fill":"#fff","stroke":"#8c8c8c","strokeWidth":1},"encoding":{"x":{"datum":3.08},"x2":{"datum":9.86},"y":{"datum":31.9},"y2":{"datum":35.22}}},
 {"data":{"name":"ann"},"transform":[{"filter":"datum.p=='OA'"}],"mark":{"type":"text","font":"Liberation Serif","fontSize":18,"color":"#444","baseline":"middle"},"encoding":{"x":{"datum":6.47},"y":{"datum":33.56},"text":{"field":"title"}}},
 {"data":{"name":"ann"},"transform":[{"filter":"datum.p=='OA'"}],"mark":{"type":"text","font":"Liberation Serif","fontSize":16.5,"fontWeight":"bold","color":"#111","baseline":"middle"},"encoding":{"x":{"datum":4.68},"y":{"datum":18.9},"text":{"field":"stat"}}},
 {"data":{"name":"pts"},"transform":[{"filter":"datum.p=='OA'"}],"mark":{"type":"text","dy":-15,"font":"Liberation Sans","fontSize":12,"fill":"#666","baseline":"middle"},"encoding":{"x":{"field":"x","type":"quantitative"},"y":{"field":"pct","type":"quantitative"},"text":{"field":"pct","type":"quantitative"}}}
]},
{"width":240,"height":202,"layer":[
 {"data":{"name":"pts"},"transform":[{"filter":"datum.p=='OB' && datum.pct>0"}],"mark":{"type":"bar","width":17.7,"fill":"#d4d4d4","stroke":"#1a1a1a","strokeWidth":1},
  "encoding":{"x":{"field":"x","type":"quantitative","scale":{"domain":[3.08,9.86],"nice":false,"zero":false,"padding":0},"axis":{"values":[4,5,6,7,8,9],"title":null}},
   "y":{"field":"pct","type":"quantitative","scale":{"domain":[0,31.9],"nice":false},"axis":{"values":[0,15,30],"title":null,"labels":false,"ticks":false}}}},
 {"data":{"name":"crv"},"transform":[{"filter":"datum.p=='OB'"}],"mark":{"type":"line","color":"#111","strokeWidth":2,"interpolate":"monotone","clip":true},"encoding":{"x":{"field":"x","type":"quantitative"},"y":{"field":"y","type":"quantitative"}}},
 {"data":{"name":"pts"},"transform":[{"filter":"datum.p=='OB'"}],"mark":{"type":"circle","size":165,"color":"#000","opacity":1,"clip":true},"encoding":{"x":{"field":"x","type":"quantitative"},"y":{"field":"pct","type":"quantitative"}}},
 {"data":{"name":"ann"},"transform":[{"filter":"datum.p=='OB'"}],"mark":{"type":"rect","fill":"#fff","stroke":"#8c8c8c","strokeWidth":1},"encoding":{"x":{"datum":3.08},"x2":{"datum":9.86},"y":{"datum":31.9},"y2":{"datum":35.22}}},
 {"data":{"name":"ann"},"transform":[{"filter":"datum.p=='OB'"}],"mark":{"type":"text","font":"Liberation Serif","fontSize":18,"color":"#444","baseline":"middle"},"encoding":{"x":{"datum":6.47},"y":{"datum":33.56},"text":{"field":"title"}}},
 {"data":{"name":"ann"},"transform":[{"filter":"datum.p=='OB'"}],"mark":{"type":"text","font":"Liberation Serif","fontSize":16.5,"fontWeight":"bold","color":"#111","baseline":"middle"},"encoding":{"x":{"datum":4.52},"y":{"datum":17.6},"text":{"field":"stat"}}},
 {"data":{"name":"pts"},"transform":[{"filter":"datum.p=='OB'"}],"mark":{"type":"text","dy":-15,"font":"Liberation Sans","fontSize":12,"fill":"#666","baseline":"middle"},"encoding":{"x":{"field":"x","type":"quantitative"},"y":{"field":"pct","type":"quantitative"},"text":{"field":"pct","type":"quantitative"}}}
]},
{"width":240,"height":202,"layer":[
 {"data":{"name":"pts"},"transform":[{"filter":"datum.p=='OC' && datum.pct>0"}],"mark":{"type":"bar","width":17.7,"fill":"#d4d4d4","stroke":"#1a1a1a","strokeWidth":1},
  "encoding":{"x":{"field":"x","type":"quantitative","scale":{"domain":[3.08,9.86],"nice":false,"zero":false,"padding":0},"axis":{"values":[4,5,6,7,8,9],"title":"Degree of Likeness","titlePadding":16}},
   "y":{"field":"pct","type":"quantitative","scale":{"domain":[0,31.9],"nice":false},"axis":{"values":[0,15,30],"title":null,"labels":false,"ticks":false}}}},
 {"data":{"name":"crv"},"transform":[{"filter":"datum.p=='OC'"}],"mark":{"type":"line","color":"#111","strokeWidth":2,"interpolate":"monotone","clip":true},"encoding":{"x":{"field":"x","type":"quantitative"},"y":{"field":"y","type":"quantitative"}}},
 {"data":{"name":"pts"},"transform":[{"filter":"datum.p=='OC'"}],"mark":{"type":"circle","size":165,"color":"#000","opacity":1,"clip":true},"encoding":{"x":{"field":"x","type":"quantitative"},"y":{"field":"pct","type":"quantitative"}}},
 {"data":{"name":"ann"},"transform":[{"filter":"datum.p=='OC'"}],"mark":{"type":"rect","fill":"#fff","stroke":"#8c8c8c","strokeWidth":1},"encoding":{"x":{"datum":3.08},"x2":{"datum":9.86},"y":{"datum":31.9},"y2":{"datum":35.22}}},
 {"data":{"name":"ann"},"transform":[{"filter":"datum.p=='OC'"}],"mark":{"type":"text","font":"Liberation Serif","fontSize":18,"color":"#444","baseline":"middle"},"encoding":{"x":{"datum":6.47},"y":{"datum":33.56},"text":{"field":"title"}}},
 {"data":{"name":"ann"},"transform":[{"filter":"datum.p=='OC'"}],"mark":{"type":"text","font":"Liberation Serif","fontSize":16.5,"fontWeight":"bold","color":"#111","baseline":"middle"},"encoding":{"x":{"datum":4.61},"y":{"datum":19.0},"text":{"field":"stat"}}},
 {"data":{"name":"pts"},"transform":[{"filter":"datum.p=='OC'"}],"mark":{"type":"text","dy":-15,"font":"Liberation Sans","fontSize":12,"fill":"#666","baseline":"middle"},"encoding":{"x":{"field":"x","type":"quantitative"},"y":{"field":"pct","type":"quantitative"},"text":{"field":"pct","type":"quantitative"}}}
]},
{"width":240,"height":202,"layer":[
 {"data":{"name":"pts"},"transform":[{"filter":"datum.p=='OD' && datum.pct>0"}],"mark":{"type":"bar","width":17.7,"fill":"#d4d4d4","stroke":"#1a1a1a","strokeWidth":1},
  "encoding":{"x":{"field":"x","type":"quantitative","scale":{"domain":[3.08,9.86],"nice":false,"zero":false,"padding":0},"axis":{"values":[4,5,6,7,8,9],"title":null}},
   "y":{"field":"pct","type":"quantitative","scale":{"domain":[0,31.9],"nice":false},"axis":{"values":[0,15,30],"title":null,"labels":false,"ticks":false}}}},
 {"data":{"name":"crv"},"transform":[{"filter":"datum.p=='OD'"}],"mark":{"type":"line","color":"#111","strokeWidth":2,"interpolate":"monotone","clip":true},"encoding":{"x":{"field":"x","type":"quantitative"},"y":{"field":"y","type":"quantitative"}}},
 {"data":{"name":"pts"},"transform":[{"filter":"datum.p=='OD'"}],"mark":{"type":"circle","size":165,"color":"#000","opacity":1,"clip":true},"encoding":{"x":{"field":"x","type":"quantitative"},"y":{"field":"pct","type":"quantitative"}}},
 {"data":{"name":"ann"},"transform":[{"filter":"datum.p=='OD'"}],"mark":{"type":"rect","fill":"#fff","stroke":"#8c8c8c","strokeWidth":1},"encoding":{"x":{"datum":3.08},"x2":{"datum":9.86},"y":{"datum":31.9},"y2":{"datum":35.22}}},
 {"data":{"name":"ann"},"transform":[{"filter":"datum.p=='OD'"}],"mark":{"type":"text","font":"Liberation Serif","fontSize":18,"color":"#444","baseline":"middle"},"encoding":{"x":{"datum":6.47},"y":{"datum":33.56},"text":{"field":"title"}}},
 {"data":{"name":"ann"},"transform":[{"filter":"datum.p=='OD'"}],"mark":{"type":"text","font":"Liberation Serif","fontSize":16.5,"fontWeight":"bold","color":"#111","baseline":"middle"},"encoding":{"x":{"datum":4.67},"y":{"datum":17.4},"text":{"field":"stat"}}},
 {"data":{"name":"pts"},"transform":[{"filter":"datum.p=='OD'"}],"mark":{"type":"text","dy":-15,"font":"Liberation Sans","fontSize":12,"fill":"#666","baseline":"middle"},"encoding":{"x":{"field":"x","type":"quantitative"},"y":{"field":"pct","type":"quantitative"},"text":{"field":"pct","type":"quantitative"}}}
]},
{"width":240,"height":202,"layer":[
 {"data":{"name":"pts"},"transform":[{"filter":"datum.p=='OE' && datum.pct>0"}],"mark":{"type":"bar","width":17.7,"fill":"#d4d4d4","stroke":"#1a1a1a","strokeWidth":1},
  "encoding":{"x":{"field":"x","type":"quantitative","scale":{"domain":[3.08,9.86],"nice":false,"zero":false,"padding":0},"axis":{"values":[4,5,6,7,8,9],"title":null}},
   "y":{"field":"pct","type":"quantitative","scale":{"domain":[0,31.9],"nice":false},"axis":{"values":[0,15,30],"title":null,"labels":false,"ticks":false}}}},
 {"data":{"name":"crv"},"transform":[{"filter":"datum.p=='OE'"}],"mark":{"type":"line","color":"#111","strokeWidth":2,"interpolate":"monotone","clip":true},"encoding":{"x":{"field":"x","type":"quantitative"},"y":{"field":"y","type":"quantitative"},"detail":{"field":"s","type":"nominal"}}},
 {"data":{"name":"pts"},"transform":[{"filter":"datum.p=='OE'"}],"mark":{"type":"circle","size":165,"color":"#000","opacity":1,"clip":true},"encoding":{"x":{"field":"x","type":"quantitative"},"y":{"field":"pct","type":"quantitative"}}},
 {"data":{"name":"ann"},"transform":[{"filter":"datum.p=='OE'"}],"mark":{"type":"rect","fill":"#fff","stroke":"#8c8c8c","strokeWidth":1},"encoding":{"x":{"datum":3.08},"x2":{"datum":9.86},"y":{"datum":31.9},"y2":{"datum":35.22}}},
 {"data":{"name":"ann"},"transform":[{"filter":"datum.p=='OE'"}],"mark":{"type":"text","font":"Liberation Serif","fontSize":18,"color":"#444","baseline":"middle"},"encoding":{"x":{"datum":6.47},"y":{"datum":33.56},"text":{"field":"title"}}},
 {"data":{"name":"ann"},"transform":[{"filter":"datum.p=='OE'"}],"mark":{"type":"text","font":"Liberation Serif","fontSize":16.5,"fontWeight":"bold","color":"#111","baseline":"middle"},"encoding":{"x":{"datum":4.81},"y":{"datum":16.9},"text":{"field":"stat"}}},
 {"data":{"name":"pts"},"transform":[{"filter":"datum.p=='OE'"}],"mark":{"type":"text","dy":-15,"font":"Liberation Sans","fontSize":12,"fill":"#666","baseline":"middle"},"encoding":{"x":{"field":"x","type":"quantitative"},"y":{"field":"pct","type":"quantitative"},"text":{"field":"pct","type":"quantitative"}}}
]}
]
}
